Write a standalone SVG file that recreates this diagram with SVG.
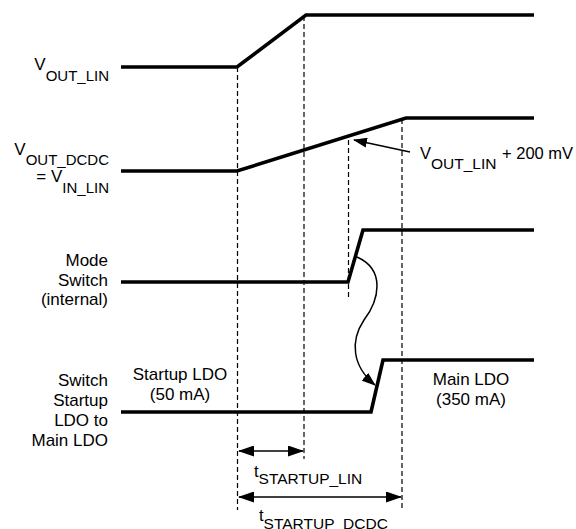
<svg xmlns="http://www.w3.org/2000/svg" width="576" height="529" viewBox="0 0 576 529">
<style>
.sig{fill:none;stroke:#000;stroke-width:3.6;stroke-linejoin:miter}
.dash{fill:none;stroke:#000;stroke-width:1.2;stroke-dasharray:5 3}
.thin{fill:none;stroke:#000;stroke-width:1.5}
text{font-family:"Liberation Sans",Arial,sans-serif;font-size:17px;fill:#000}
.sub{font-size:15px}
.l{text-anchor:end}
.c{text-anchor:middle}
</style>
<defs>
<marker id="ah" markerWidth="16" markerHeight="11" refX="15" refY="5.5" orient="auto-start-reverse" markerUnits="userSpaceOnUse">
<path d="M0,0 L16,5.5 L0,11 Z" fill="#000"/>
</marker>
<marker id="ah2" markerWidth="14" markerHeight="10" refX="13" refY="5" orient="auto" markerUnits="userSpaceOnUse">
<path d="M0,0 L14,5 L0,10 Z" fill="#000"/>
</marker>
</defs>
<g id="connectors">
<path class="dash" d="M237.5,67 V510"/>
<path class="dash" d="M304,16 V459"/>
<path class="dash" d="M348.5,140 V298"/>
<path class="dash" d="M402,119 V511"/>
<path class="thin" d="M239,451 H303" marker-start="url(#ah)" marker-end="url(#ah)"/>
<path class="thin" d="M239,497 H401" marker-start="url(#ah)" marker-end="url(#ah)"/>
<path class="thin" d="M410,152 L354,140" marker-end="url(#ah2)"/>
<path class="thin" d="M357,257 C386,270 379,300 364,320 C350,341 352,366 375,385" marker-end="url(#ah2)"/>
</g>
<g id="vout_lin">
<path class="sig" d="M121,67 H237 L306,15 H534"/>
<text class="l" x="109" y="70">V<tspan class="sub" dy="10.5">OUT_LIN</tspan></text>
</g>
<g id="vout_dcdc">
<path class="sig" d="M121,171 H237 L406,118 H534"/>
<text class="l" x="109" y="155">V<tspan class="sub" dy="10">OUT_DCDC</tspan></text>
<text class="l" x="109" y="182">= V<tspan class="sub" dy="11">IN_LIN</tspan></text>
</g>
<g id="label_200mv">
<text x="420" y="159" style="font-size:16.5px">V<tspan dy="9.5" style="font-size:15.5px">OUT_LIN</tspan><tspan x="502" y="159">+ 200 mV</tspan></text>
</g>
<g id="mode_switch">
<path class="sig" d="M121,282 H348 L363,230 H534"/>
<text class="l" x="108" y="266">Mode</text>
<text class="l" x="108" y="286">Switch</text>
<text class="l" x="108" y="305">(internal)</text>
</g>
<g id="switch_ldo">
<path class="sig" d="M121,412 H371 L383,360 H534"/>
<text class="l" x="108" y="386">Switch</text>
<text class="l" x="108" y="406">Startup</text>
<text class="l" x="108" y="426">LDO to</text>
<text class="l" x="108" y="446">Main LDO</text>
<text class="c" x="180" y="380">Startup LDO</text>
<text class="c" x="180" y="400">(50 mA)</text>
<text class="c" x="471" y="385">Main LDO</text>
<text class="c" x="471" y="405">(350 mA)</text>
</g>
<g id="t_startup">
<text x="254" y="477" style="font-size:16.5px">t<tspan dy="7" style="font-size:15.5px">STARTUP_LIN</tspan></text>
<text x="259" y="520.5" style="font-size:16.5px">t<tspan dy="8.5" style="font-size:15.5px">STARTUP_DCDC</tspan></text>
</g>
</svg>
